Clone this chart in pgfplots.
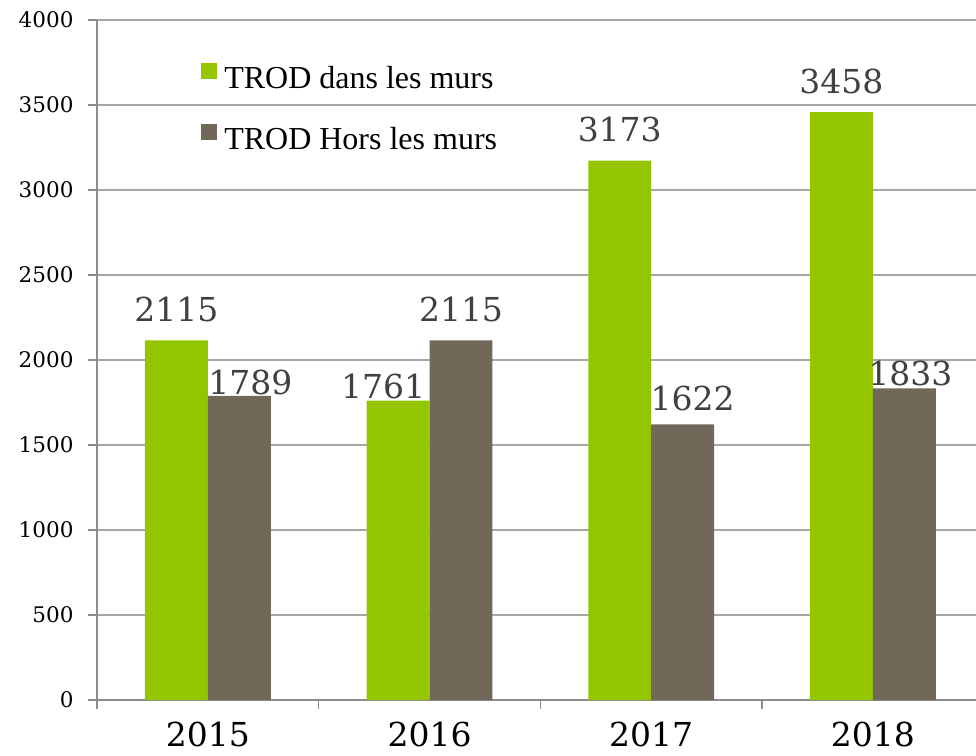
\documentclass[border=0pt]{standalone}
\usepackage{fontspec}
\setmainfont{Liberation Serif}
\newfontfamily\numfont{DejaVu Serif}
\usepackage{pgfplots}
\usepackage{pgfplotstable}
\pgfplotsset{compat=1.18}

\definecolor{trodgreen}{HTML}{94C600}
\definecolor{trodbrown}{HTML}{71685A}
\definecolor{axisgray}{HTML}{8C8C8C}
\definecolor{gridgray}{HTML}{A6A6A6}
\definecolor{labelgray}{HTML}{404040}

% x = year index, dx/dy = hand offsets of the value labels (pt)
\pgfplotstableread{
x y dx dy
0 2115 0 17
1 1761 -15 0
2 3173 0 17
3 3458 0 17
}\dans
\pgfplotstableread{
x y dx dy
0 1789 11 0
1 2115 0 17
2 1622 10 12
3 1833 6 1
}\hors

\begin{document}
\begin{tikzpicture}
\begin{axis}[
    at={(0pt,0pt)}, anchor=south west,
    scale only axis,
    width=879pt, height=680pt,
    xmin=-0.5, xmax=3.465,
    ymin=0, ymax=4000,
    ybar=0pt, bar width=0.284,
    axis x line=bottom, axis y line=left,
    axis line style={-, draw=axisgray, line width=1.3pt},
    tick align=outside, major tick length=9pt,
    tick style={draw=axisgray, line width=1.3pt},
    ytick={0,500,...,4000},
    ymajorgrids, grid style={draw=gridgray, line width=1.3pt},
    /pgf/number format/1000 sep={},
    /pgf/number format/assume math mode=true,
    yticklabel style={font=\numfont\fontsize{21.5}{21.5}\selectfont, text=black, xshift=-11pt},
    xtick={-0.5,0.5,1.5,2.5}, xticklabels={},
    extra x ticks={0,1,2,3},
    extra x tick labels={2015,2016,2017,2018},
    extra x tick style={major tick length=0pt,
        xticklabel style={font=\numfont\fontsize{33}{33}\selectfont, text=black, yshift=-18pt}},
    nodes near coords,
    visualization depends on={\thisrow{dx} \as \dx},
    visualization depends on={\thisrow{dy} \as \dy},
    every node near coord/.append style={font=\numfont\fontsize{33}{33}\selectfont,
        text=labelgray, anchor=south, inner sep=1pt, xshift=\dx pt, yshift=\dy pt},
    legend style={at={(0.115,0.94)}, anchor=north west, draw=none, fill=none,
        font=\fontsize{32}{38}\selectfont, row sep=32pt,
        /tikz/every odd column/.append style={column sep=5pt}},
    legend cell align=left,
    legend image code/.code={\path[#1, draw=none] (0pt,-1pt) rectangle (16pt,15pt);},
]
\addplot[fill=trodgreen, draw=none] table[x=x, y=y] {\dans};
\addplot[fill=trodbrown, draw=none] table[x=x, y=y] {\hors};
\legend{TROD dans les murs, TROD Hors les murs}
\end{axis}
\pgfresetboundingbox
\path (-97pt,-55pt) rectangle (879pt,700pt);
\end{tikzpicture}
\end{document}
